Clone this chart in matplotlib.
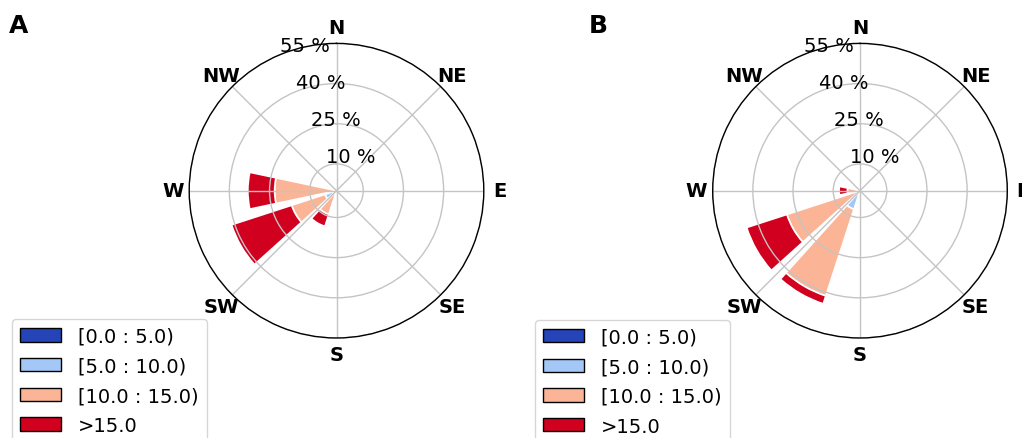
"""Rosa dos ventos em dois painéis (A e B) com faixas de intensidade empilhadas."""

import numpy as np
import matplotlib.pyplot as plt
from matplotlib.patches import Patch

# =========================================================================
# DADOS (percentual de ocorrência por setor e por faixa)
# =========================================================================

DIRECOES = [210, 240, 270]  # centro dos setores, graus a partir do Norte
ROTULOS_DIRECAO = ['N', 'NE', 'E', 'SE', 'S', 'SW', 'W', 'NW']
FAIXAS = ['[0.0 : 5.0)', '[5.0 : 10.0)', '[10.0 : 15.0)', '>15.0']
CORES = ['#2444b8', '#a3c8f7', '#fbb496', '#d0001e']
RAIOS = [10, 25, 40, 55]
ROTULOS_RAIO = ['10 %', '25 %', '40 %', '55 %']

# Painel A
A_0_5 = [0.0, 0.0, 0.0]
A_5_10 = [0.0, 4.5, 0.0]
A_10_15 = [9.3, 13.1, 23.1]
A_15 = [4.7, 23.6, 10.0]

# Painel B
B_0_5 = [0.0, 0.0, 0.0]
B_5_10 = [7.3, 0.0, 0.0]
B_10_15 = [34.0, 28.7, 4.7]
B_15 = [3.1, 15.8, 3.1]

LARGURA_PX, ALTURA_PX = 1022, 439


def desenhar_rosa(fig, cx, cy, raio_px, faixas_valores, letra, x_letra, pos_legenda):
    """Desenha um painel da rosa dos ventos centrado em (cx, cy) em pixels."""
    ret = [(cx - raio_px) / LARGURA_PX, (ALTURA_PX - cy - raio_px) / ALTURA_PX,
           2 * raio_px / LARGURA_PX, 2 * raio_px / ALTURA_PX]
    ax = fig.add_axes(ret, projection='polar')
    ax.set_theta_zero_location('N')
    ax.set_theta_direction(-1)

    theta = np.deg2rad(DIRECOES)
    largura = np.deg2rad(360 / 12) * 0.8
    base = np.zeros(len(DIRECOES))
    for valores, cor in zip(faixas_valores, CORES):
        valores = np.asarray(valores, dtype=float)
        m = valores > 0
        if m.any():
            ax.bar(theta[m], valores[m], width=largura, bottom=base[m],
                   color=cor, edgecolor='white', linewidth=1.2)
        base += valores

    ax.set_ylim(0, 55)
    ax.set_yticks(RAIOS)
    ax.set_yticklabels([])
    ax.set_xticks(np.deg2rad(np.arange(0, 360, 45)))
    ax.set_xticklabels([])
    ax.tick_params(length=0)
    ax.grid(color='#c4c4c4', linewidth=1.0)
    ax.spines['polar'].set_color('black')
    ax.spines['polar'].set_linewidth(1.0)

    # rótulos das direções
    for ang, rot in zip(np.arange(0, 360, 45), ROTULOS_DIRECAO):
        ax.text(np.deg2rad(ang), 61, rot, ha='center', va='center',
                fontsize=14, fontweight='bold', clip_on=False)

    # rótulos dos anéis
    for r, rot in zip(RAIOS, ROTULOS_RAIO):
        ax.text(np.deg2rad(-22.5), r, rot, ha='left', va='bottom',
                fontsize=14, clip_on=False)

    alcas = [Patch(facecolor=c, edgecolor='black', linewidth=1.0) for c in CORES]
    fig.legend(alcas, FAIXAS, loc='upper left',
               bbox_to_anchor=(pos_legenda[0] / LARGURA_PX, 1 - pos_legenda[1] / ALTURA_PX),
               borderaxespad=0, fontsize=14, labelspacing=0.55,
               handlelength=2.1, handleheight=0.67, handletextpad=0.9)

    fig.text(x_letra / LARGURA_PX, 1 - 25.8 / ALTURA_PX, letra, ha='center', va='center',
             fontsize=18, fontweight='bold')
    return ax


def main():
    fig = plt.figure(figsize=(LARGURA_PX / 100, ALTURA_PX / 100), dpi=100)
    desenhar_rosa(fig, 336.5, 191.7, 147.3, [A_0_5, A_5_10, A_10_15, A_15],
                  'A', 18.8, (12, 320))
    desenhar_rosa(fig, 860.0, 191.7, 147.3, [B_0_5, B_5_10, B_10_15, B_15],
                  'B', 598.0, (535, 320.7))
    fig.savefig('out.png', dpi=100)


if __name__ == '__main__':
    main()
